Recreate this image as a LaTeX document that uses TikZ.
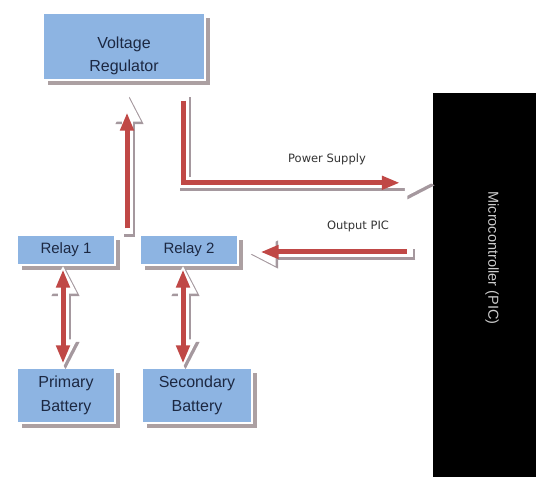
\documentclass[tikz,border=0pt]{standalone}
\usepackage{fontspec}
\usepackage{graphicx}
\setmainfont{Liberation Sans}
\newfontfamily\labelfont{DejaVu Sans}
\usetikzlibrary{arrows.meta,shadows,calc}

\definecolor{boxblue}{RGB}{141,180,226}
\definecolor{boxtext}{RGB}{28,40,66}
\definecolor{boxshade}{RGB}{172,160,162}
\definecolor{arrowred}{RGB}{192,72,70}
\definecolor{arrowshade}{RGB}{165,152,158}
\definecolor{pictext}{RGB}{205,205,205}

\tikzset{
  unit/.style={fill=boxblue, draw=white, line width=1.2pt, text=boxtext,
    align=center, inner sep=0pt, font=\fontsize{16}{24}\selectfont,
    drop shadow={shadow xshift=5pt, shadow yshift=-5pt, fill=boxshade, opacity=1}},
  relayunit/.style={unit, font=\fontsize{15}{17}\selectfont,
    minimum width=98pt, minimum height=30pt},
  flowlabel/.style={font=\labelfont\fontsize{11.5}{13}\selectfont, text=black!80},
  arrshade/.style={draw=arrowshade, line width=11pt, >={Triangle[width=26pt,length=28pt]},
    transform canvas={shift={(2.5pt,-2.5pt)}}},
  arrbody/.style={draw=white, line width=11pt, >={Triangle[width=26pt,length=28pt]}},
  arrcore/.style={draw=arrowred, line width=5pt, >={Triangle[width=13pt,length=18pt]},
    shorten <=6pt},
}

% block arrow: shade, white body, red core
\newcommand{\fatarrow}[3][->]{%
  \draw[arrshade,#1] #3;
  \draw[arrbody,#1] #3;
  \draw[arrcore,#1,#2] #3;}

% move the ink of a box by #1 without changing its size
\newcommand{\nudge}[2]{\raisebox{#1}[\height][\depth]{#2}}

\begin{document}
\begin{tikzpicture}[x=1pt,y=-1pt]
\useasboundingbox (0,0) rectangle (536,481);

% blocks
\node[unit, minimum width=162pt, minimum height=67pt] (vreg) at (124,46.5)
  {\nudge{-9pt}{\begin{tabular}{@{}c@{}}Voltage\\[-1pt]Regulator\end{tabular}}};
\node[relayunit] (relay1) at (66,250) {Relay 1};
\node[relayunit] (relay2) at (189,250) {Relay 2};
\node[unit, minimum width=98pt, minimum height=55pt] (pbat) at (66,395.5) {Primary\\Battery};
\node[unit, minimum width=110pt, minimum height=55pt] (sbat) at (197,395.5) {Secondary\\Battery};

\node[fill=black, minimum width=118pt, minimum height=384pt, inner sep=0pt, text=pictext,
  font=\fontsize{14.5}{16}\selectfont] (pic) at (492,285)
  {\nudge{27pt}{\rotatebox{-90}{Microcontroller (PIC)}}};

% free ends of the connectors
\coordinate (upfoot) at ($(vreg.south |- relay1.north)+(3,0)$);
\coordinate (uptip) at ($(vreg.south)+(3,13)$);
\coordinate (psstart) at ($(vreg.south)+(59,14)$);
\coordinate (psend) at ($(pic.north west)+(0,90)$);
\coordinate (outstart) at ($(pic.west |- relay2.east)+(-20,2)$);
\coordinate (outtip) at ($(relay2.east)+(9,2)$);

% connectors
\fatarrow{shorten >=19pt}{(upfoot) -- (uptip)}
\fatarrow{shorten >=33pt}{(psstart) |- (psend)}
\fatarrow{shorten >=13pt}{(outstart) -- (outtip)}
\fatarrow[<->]{shorten >=4pt, shorten <=4pt}{($(relay1.south)+(-3,0)$) -- ($(pbat.north)+(-3,0)$)}
\fatarrow[<->]{shorten >=4pt, shorten <=4pt}{($(relay2.south)+(-6,0)$) -- ($(relay2.south |- sbat.north)+(-6,0)$)}

% labels
\node[flowlabel] (pslabel) at (327,159) {Power Supply};
\node[flowlabel] (outlabel) at (358,226) {Output PIC};

\end{tikzpicture}
\end{document}
